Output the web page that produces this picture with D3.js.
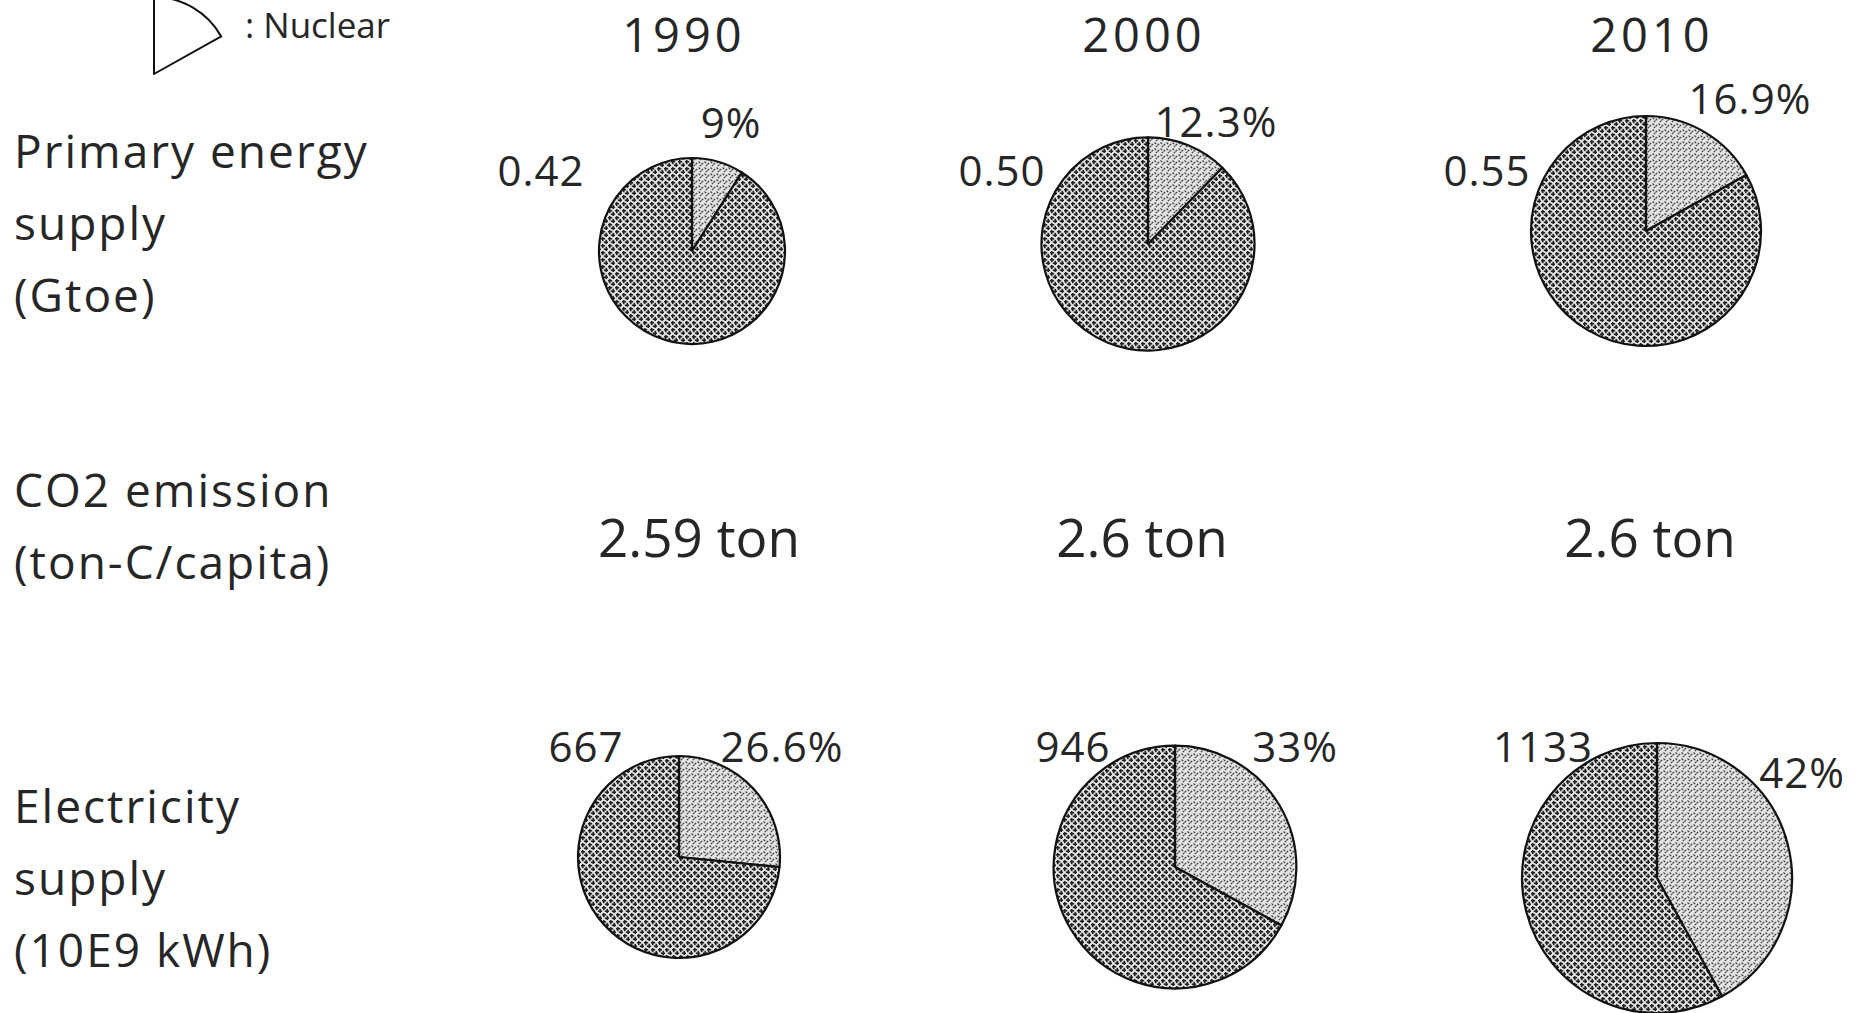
<!DOCTYPE html>
<html>
<head>
<meta charset="utf-8">
<script src="https://cdn.jsdelivr.net/npm/d3@7"></script>
<style>
  html, body { margin: 0; padding: 0; background: #fff; }
  svg { display: block; }
  text { font-family: "Open Sans", "DejaVu Sans", sans-serif; fill: #262626; }
</style>
</head>
<body>
<svg id="chart" width="1869" height="1013"></svg>
<script>
// ---------- data ----------
const years = ["1990", "2000", "2010"];
const primarySupply = [0.42, 0.50, 0.55];              // Gtoe
const primarySupplyLabels = ["0.42", "0.50", "0.55"];
const primaryNuclearShare = [9, 12.3, 16.9];           // %
const primaryNuclearLabels = ["9%", "12.3%", "16.9%"];
const co2PerCapita = [2.59, 2.6, 2.6];                 // ton-C/capita
const co2Labels = ["2.59 ton", "2.6 ton", "2.6 ton"];
const electricitySupply = [667, 946, 1133];            // 10E9 kWh
const electricitySupplyLabels = ["667", "946", "1133"];
const electricityNuclearShare = [26.6, 33, 42];        // %
const electricityNuclearLabels = ["26.6%", "33%", "42%"];
const rowLabels = [
  ["Primary energy", "supply", "(Gtoe)"],
  ["CO2 emission", "(ton-C/capita)"],
  ["Electricity", "supply", "(10E9 kWh)"]
];
const legendLabel = ": Nuclear";
const legendShare = 16.9;

// ---------- layout ----------
const L = {
  titleX: [684, 1144, 1652], titleY: 52,
  rowLabelX: 14,
  rowLabelY: [[168, 240, 312], [507, 579], [823, 895, 967]],
  primCenter: [[692, 251], [1148, 244], [1646, 231]],
  primValPos: [[541, 186], [1002, 186], [1487, 186]],
  primPctPos: [[731, 138], [1216, 137], [1750, 114]],
  co2X: [699, 1142, 1650], co2Y: 557,
  elecCenter: [[679, 857], [1175, 867], [1657, 878]],
  elecValPos: [[586, 762], [1073, 762], [1543, 762]],
  elecPctPos: [[782, 762], [1295, 762], [1802, 788]]
};

const svg = d3.select("#chart");
const defs = svg.append("defs");

// pattern for non-nuclear share: small plus marks
const pOther = defs.append("pattern").attr("id", "pOther")
  .attr("patternUnits", "userSpaceOnUse").attr("width", 7).attr("height", 7);
pOther.append("rect").attr("width", 7).attr("height", 7).attr("fill", "#e2e2e2");
[[1.75, 1.75], [5.25, 5.25]].forEach(([cx, cy]) => {
  pOther.append("rect").attr("x", cx - 2.4).attr("y", cy - 0.8).attr("width", 4.8).attr("height", 1.6).attr("fill", "#222");
  pOther.append("rect").attr("x", cx - 0.8).attr("y", cy - 2.4).attr("width", 1.6).attr("height", 4.8).attr("fill", "#222");
});
// pattern for nuclear share: light stipple
const pNuc = defs.append("pattern").attr("id", "pNuc")
  .attr("patternUnits", "userSpaceOnUse").attr("width", 6).attr("height", 6);
pNuc.append("rect").attr("width", 6).attr("height", 6).attr("fill", "#e4e4e4");
pNuc.append("path").attr("d", "M0.5,0.5 L2.2,2.2 M3.5,3.5 L5.2,1.8 M1.8,5.2 L3.2,3.8")
  .attr("stroke", "#3a3a3a").attr("stroke-width", 1.1);

// ---------- scales ----------
const rPrim = d3.scaleLinear().domain(d3.extent(primarySupply)).range([93, 115]);
const rElec = d3.scaleLinear().domain(d3.extent(electricitySupply)).range([101, 135]);
const pie = d3.pie().sort(null).startAngle(0).endAngle(2 * Math.PI);

function drawPie(center, r, share) {
  const g = svg.append("g").attr("transform", `translate(${center[0]},${center[1]})`);
  const arcs = pie([share, 100 - share]);
  const arc = d3.arc().innerRadius(0).outerRadius(r);
  g.selectAll("path").data(arcs).join("path")
    .attr("d", arc)
    .attr("fill", (d, i) => i === 0 ? "url(#pNuc)" : "url(#pOther)")
    .attr("stroke", "#111").attr("stroke-width", 2.2).attr("stroke-linejoin", "round");
}

// ---------- titles ----------
svg.selectAll("text.year").data(years).join("text").attr("class", "year")
  .attr("x", (d, i) => L.titleX[i]).attr("y", L.titleY)
  .attr("text-anchor", "middle").attr("font-size", 47).attr("letter-spacing", 4)
  .text(d => d);

// ---------- row labels ----------
rowLabels.forEach((lines, ri) => {
  svg.selectAll(null).data(lines).join("text")
    .attr("x", L.rowLabelX).attr("y", (d, i) => L.rowLabelY[ri][i])
    .attr("font-size", 46).attr("letter-spacing", 2)
    .text(d => d);
});

// ---------- primary energy pies ----------
years.forEach((y, i) => {
  drawPie(L.primCenter[i], rPrim(primarySupply[i]), primaryNuclearShare[i]);
  svg.append("text").attr("x", L.primValPos[i][0]).attr("y", L.primValPos[i][1])
    .attr("text-anchor", "middle").attr("font-size", 42).attr("letter-spacing", 1)
    .text(primarySupplyLabels[i]);
  svg.append("text").attr("x", L.primPctPos[i][0]).attr("y", L.primPctPos[i][1])
    .attr("text-anchor", "middle").attr("font-size", 42).attr("letter-spacing", 1)
    .text(primaryNuclearLabels[i]);
});

// ---------- CO2 ----------
svg.selectAll("text.co2").data(co2Labels).join("text").attr("class", "co2")
  .attr("x", (d, i) => L.co2X[i]).attr("y", L.co2Y)
  .attr("text-anchor", "middle").attr("font-size", 53)
  .text(d => d);

// ---------- electricity pies ----------
years.forEach((y, i) => {
  drawPie(L.elecCenter[i], rElec(electricitySupply[i]), electricityNuclearShare[i]);
  svg.append("text").attr("x", L.elecValPos[i][0]).attr("y", L.elecValPos[i][1])
    .attr("text-anchor", "middle").attr("font-size", 42).attr("letter-spacing", 1)
    .text(electricitySupplyLabels[i]);
  svg.append("text").attr("x", L.elecPctPos[i][0]).attr("y", L.elecPctPos[i][1])
    .attr("text-anchor", "middle").attr("font-size", 42).attr("letter-spacing", 1)
    .text(electricityNuclearLabels[i]);
});

// ---------- legend ----------
const legendArc = d3.arc().innerRadius(0).outerRadius(77)
  .startAngle(0).endAngle(2 * Math.PI * legendShare / 100);
svg.append("path").attr("transform", "translate(154,74)")
  .attr("d", legendArc()).attr("fill", "#fff")
  .attr("stroke", "#111").attr("stroke-width", 2).attr("stroke-linejoin", "round");
svg.append("text").attr("x", 245).attr("y", 38).attr("font-size", 35).text(legendLabel);
</script>
</body>
</html>
